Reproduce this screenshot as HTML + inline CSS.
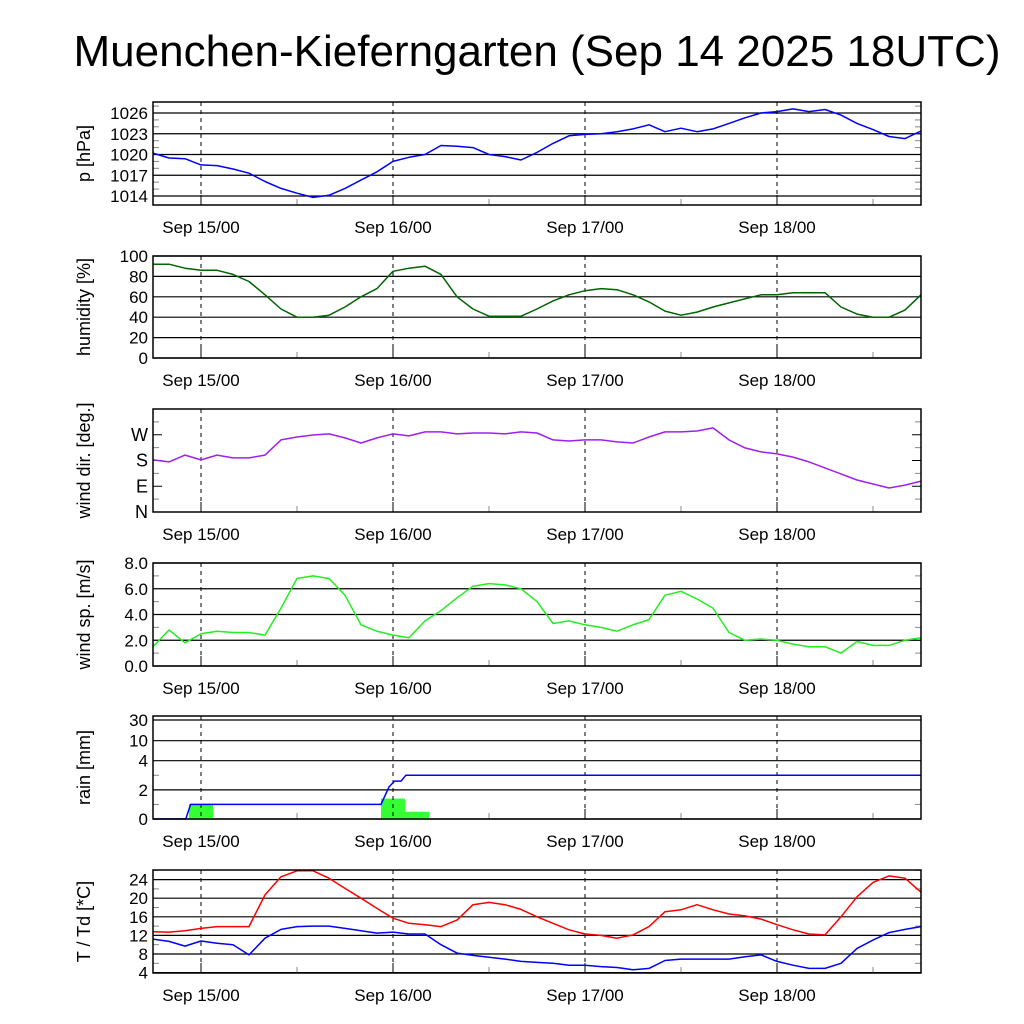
<!DOCTYPE html>
<html><head><meta charset="utf-8"><style>
html,body{margin:0;padding:0;background:#fff;}
svg{display:block;font-family:"Liberation Sans",sans-serif;}
</style></head><body>
<svg id="c" width="1024" height="1024" viewBox="0 0 1024 1024">
<text x="537" y="66" font-size="44" text-anchor="middle">Muenchen-Kieferngarten (Sep 14 2025 18UTC)</text>
</svg>
<script>
// hours since Sep 14 18UTC, every 2h
const hours = [0,2,4,6,8,10,12,14,16,18,20,22,24,26,28,30,32,34,36,38,40,42,44,46,48,50,52,54,56,58,60,62,64,66,68,70,72,74,76,78,80,82,84,86,88,90,92,94,96];
const pressure = [1020.2,1019.5,1019.4,1018.5,1018.4,1017.9,1017.3,1016.1,1015.1,1014.4,1013.8,1014.1,1015.1,1016.3,1017.5,1019.0,1019.6,1020.0,1021.3,1021.2,1021.0,1020.0,1019.7,1019.2,1020.3,1021.6,1022.7,1022.9,1023.0,1023.3,1023.7,1024.3,1023.3,1023.8,1023.3,1023.7,1024.5,1025.3,1026.0,1026.2,1026.6,1026.2,1026.5,1025.7,1024.5,1023.6,1022.6,1022.3,1023.4];
const humidity = [92,92,88,86,86,82,75,62,48,40,40,42,50,60,68,85,88,90,82,60,48,41,41,41,48,56,62,66,68,67,62,55,46,42,45,50,54,58,62,62,64,64,64,50,43,40,40,47,62];
const windDir = [182,175,199,182,199,189,189,199,252,262,269,273,259,241,259,273,266,280,280,273,276,276,273,280,276,252,248,252,252,245,241,262,280,280,283,294,252,224,210,203,192,175,154,133,112,98,84,94,108];
const windSpeed = [1.5,2.8,1.8,2.5,2.7,2.6,2.6,2.4,4.5,6.8,7.0,6.8,5.5,3.2,2.7,2.4,2.2,3.5,4.3,5.3,6.2,6.4,6.3,6.0,5.0,3.3,3.5,3.2,3.0,2.7,3.2,3.6,5.5,5.8,5.2,4.5,2.6,2.0,2.1,2.0,1.7,1.5,1.5,1.0,1.9,1.6,1.6,2.0,2.2];
const temp = [12.8,12.7,13.0,13.5,13.9,13.9,13.9,20.7,24.6,25.9,25.9,24.3,22.1,20.0,17.8,15.7,14.6,14.3,13.9,15.3,18.6,19.1,18.6,17.6,16.0,14.6,13.2,12.3,12.0,11.4,12.1,13.9,17.1,17.5,18.6,17.5,16.6,16.2,15.5,14.3,13.2,12.3,12.1,16.0,20.3,23.4,24.8,24.3,21.3];
const dewpoint = [11.2,10.7,9.7,10.8,10.3,10.0,7.8,11.4,13.3,13.9,14.0,14.0,13.5,13.0,12.5,12.7,12.3,12.3,10.0,8.2,7.7,7.3,6.9,6.4,6.2,6.0,5.6,5.6,5.3,5.1,4.6,4.9,6.6,6.9,6.9,6.9,6.9,7.4,7.8,6.4,5.6,4.9,4.9,6.0,9.2,11.0,12.6,13.3,13.9];
const rainStart = [4.5,28.5,31.5];
const rainAmount = [1.0,1.4,0.5];
const cumHours = [0,4.1,4.7,28.5,29.5,30.2,31.0,31.6,96];
const cumRain = [0,0,1.0,1.0,2.2,2.6,2.6,3.0,3.0];
const dayLabels = ["Sep 15/00","Sep 16/00","Sep 17/00","Sep 18/00"];
const dayHours = [6,30,54,78];
const pTicks = [1014,1017,1020,1023,1026];
const hTicks = [0,20,40,60,80,100];
const dTicks = [0,90,180,270];
const dTickLabels = ["N","E","S","W"];
const sTicks = [0,2,4,6,8];
const rTicks = [0,2,4,10,30];
const tTicks = [4,8,12,16,20,24];

const NS="http://www.w3.org/2000/svg";
const svg=document.getElementById('c');
function el(tag,attrs,parent){const e=document.createElementNS(NS,tag);for(const k in attrs)e.setAttribute(k,attrs[k]);(parent||svg).appendChild(e);return e;}
const X0=153,X1=921,H0=0,H1=96;
function xs(h){return X0+(h-H0)/(H1-H0)*(X1-X0);}

function panel(name,top,bot,yfn,ticks,labels,ytitle,opts){
  const g=el('g',{});
  
  
  ticks.forEach((t,i)=>{
    const y=yfn(t);
    if(opts.grid){const l=el('line',{x1:X0,x2:X1,y1:y,y2:y,stroke:'#000','stroke-width':1.2},g);
      }
    else{el('line',{x1:X0,x2:X0+9,y1:y,y2:y,stroke:'#000'},g);el('line',{x1:X1-9,x2:X1,y1:y,y2:y,stroke:'#000'},g);}
    const tx=el('text',{x:148,y:y+6,'font-size':opts.fs||17,'text-anchor':'end'},g);
    tx.textContent=labels[i];
    
  });
  (opts.minor||[]).forEach(t=>{const y=yfn(t);
    el('line',{x1:X0,x2:X0+6,y1:y,y2:y,stroke:'#888'},g);el('line',{x1:X1-6,x2:X1,y1:y,y2:y,stroke:'#888'},g);});
  dayHours.forEach((h,i)=>{
    const x=xs(h);
    el('line',{x1:x,x2:x,y1:top,y2:bot,stroke:'#000','stroke-dasharray':'4,4'},g);
    el('line',{x1:x,x2:x,y1:bot-10,y2:bot,stroke:'#000'},g);
    const tx=el('text',{x:x,y:bot+28,'font-size':17,'text-anchor':'middle'},g);
    tx.textContent=dayLabels[i];
    
  });
  [18,42,66,90].forEach(h=>{const x=xs(h);el('line',{x1:x,x2:x,y1:bot-6,y2:bot,stroke:'#888'},g);});
  const t=el('text',{x:0,y:0,'font-size':18,'text-anchor':'middle',transform:`translate(${opts.tx||90},${(top+bot)/2}) rotate(-90)`},g);
  t.textContent=ytitle;
  
  return g;
}
function border(top,bot){el('rect',{x:X0,y:top,width:X1-X0,height:bot-top,fill:'none',stroke:'#000','stroke-width':1.5});}
function line(g,xsArr,ys,color,name,w){
  const d=xsArr.map((h,i)=>(i?'L':'M')+xs(h).toFixed(1)+','+ys(i).toFixed(1)).join('');
  const p=el('path',{d:d,fill:'none',stroke:color,'stroke-width':w||1.5,'stroke-linejoin':'round'},g);
  
}

let T=102,B=205;
let yP=v=>196-(v-1014)*(196-113)/12;
let g=panel('pressure',T,B,yP,pTicks,pTicks.map(String),'p [hPa]',{grid:true,minor:[1015,1016,1018,1019,1021,1022,1024,1025,1027]});
line(g,hours,i=>yP(pressure[i]),'#0000ff','pressure-line');
border(T,B);

T=256;B=358;
let yH=v=>B-v*(B-T)/100;
g=panel('humidity',T,B,yH,hTicks,hTicks.map(String),'humidity [%]',{grid:true});
line(g,hours,i=>yH(humidity[i]),'#006400','humidity-line');
border(T,B);

T=409;B=512;
let yD=v=>B-v*(B-T)/360;
g=panel('wind-direction',T,B,yD,dTicks,dTickLabels,'wind dir. [deg.]',{grid:false,minor:[45,135,225,315],fs:18});
line(g,hours,i=>yD(windDir[i]),'#a020f0','wind-direction-line');
border(T,B);

T=563;B=666;
let yS=v=>B-v*(B-T)/8;
g=panel('wind-speed',T,B,yS,sTicks,sTicks.map(v=>v.toFixed(1)),'wind sp. [m/s]',{grid:true,minor:[1,3,5,7]});
line(g,hours,i=>yS(windSpeed[i]),'#22ee22','wind-speed-line');
border(T,B);

T=716;B=819;
const rK=[0,4,10,30],rY=[819,760.7,740.7,720];
function yR(v){for(let i=0;i<rK.length-1;i++){if(v<=rK[i+1])return rY[i]+(v-rK[i])/(rK[i+1]-rK[i])*(rY[i+1]-rY[i]);}return rY[rY.length-1];}
g=panel('rain',T,B,yR,rTicks,rTicks.map(String),'rain [mm]',{grid:true,minor:[1,3]});
rainStart.forEach((h,i)=>{
  const r=el('rect',{x:xs(h),y:yR(rainAmount[i]),width:xs(h+3)-xs(h),height:819-yR(rainAmount[i]),fill:'#33ff33'},g);
  
});
dayHours.slice(0,2).forEach(h=>{const x=xs(h);el('line',{x1:x,x2:x,y1:T,y2:B,stroke:'#000','stroke-dasharray':'4,4'},g);});
line(g,cumHours,i=>yR(cumRain[i]),'#0000ff','cumulative-rain-line');
border(T,B);

T=870;B=973;
let yT=v=>972.6-(v-4)*4.65;
g=panel('temperature',T,B,yT,tTicks,tTicks.map(String),'T / Td [*C]',{grid:true,minor:[6,10,14,18,22,26]});
line(g,hours,i=>yT(temp[i]),'#ff0000','temperature-line');
line(g,hours,i=>yT(dewpoint[i]),'#0000ff','dewpoint-line');
border(T,B);
</script>
</body></html>
